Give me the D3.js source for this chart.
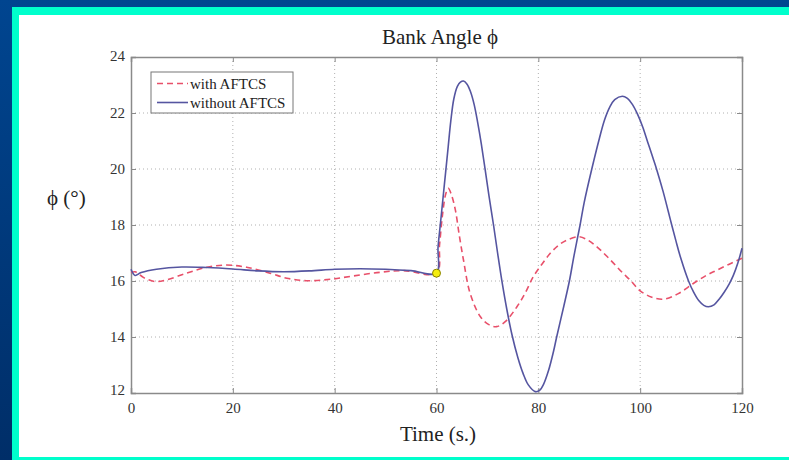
<!DOCTYPE html>
<html lang="en">
<head>
    <meta charset="UTF-8">
    <title>Bank Angle</title>
    <script src="https://cdnjs.cloudflare.com/ajax/libs/d3/7.8.5/d3.min.js"></script>
    <style>
        body {
            margin: 0;
            padding: 0;
            background: #003b80;
        }

        svg {
            display: block;
            font-family: 'Liberation Serif', 'Times New Roman', serif;
        }

        .tick-label {
            font-family: 'Liberation Serif', 'Times New Roman', serif;
            font-size: 15px;
            fill: #333;
        }

        .grid line {
            stroke: #b0b0b0;
            stroke-width: 1;
            stroke-dasharray: 1, 3;
        }
    </style>
</head>
<body>
    <svg id="chart" width="789" height="460"></svg>

    <script>
        // Data: time (s) and bank angle (deg)
        const timeWithout = [0, 0.8, 2, 5, 10, 15, 20, 25, 30, 35, 40, 45, 50, 55, 60,
            60.3, 60.8, 61.3, 61.8, 62.3, 62.8, 63.4, 64.1, 64.7, 65.3, 66, 66.7, 67.4, 68.1, 68.8,
            69.5, 70.3, 71.2, 72, 72.8, 73.8, 74.8, 76, 77, 78, 79.4, 80.3, 81, 82, 83, 83.6,
            85, 86.1, 87, 88.2, 89, 90.5, 92, 93, 94, 95, 96.5, 97.5, 98.5, 99.5, 100.5, 101.5, 102.5,
            103.3, 104.5, 105.5, 106.2, 107, 108, 109.5, 110.5, 111.5, 112.5, 113.4, 114.5, 115.5,
            116.5, 117.5, 118.3, 119.2, 120];
        const phiWithout = [16.42, 16.2, 16.3, 16.42, 16.5, 16.48, 16.43, 16.36, 16.33, 16.36, 16.42, 16.44, 16.42, 16.37, 16.28,
            17.2, 18.1, 19.0, 19.9, 20.8, 21.7, 22.5, 22.95, 23.1, 23.14, 23.03, 22.75, 22.3, 21.65, 20.9,
            20.05, 19.05, 18.0, 17.0, 16.05, 15.0, 14.1, 13.25, 12.7, 12.3, 12.05, 12.1, 12.3, 12.8, 13.5, 14.0,
            15.1, 16.0, 16.9, 18.0, 18.8, 20.0, 21.1, 21.75, 22.2, 22.48, 22.6, 22.52, 22.3, 21.95, 21.5, 20.95, 20.4,
            19.95, 19.2, 18.5, 18.0, 17.45, 16.8, 16.0, 15.6, 15.3, 15.13, 15.08, 15.15, 15.35,
            15.6, 15.9, 16.2, 16.65, 17.17];

        const timeWith = [0, 0.8, 2.5, 4.7, 7, 10.9, 14.9, 18.8, 22.7, 27.3, 30.6, 34.5, 39.1, 43.7, 48.9, 53.5, 60,
            60.6, 61.2, 61.8, 62.3, 62.9, 63.7, 64.5, 65.3, 66.6, 68.6, 70.2, 71.8, 73.5, 75.8, 77.5, 79,
            80.7, 82.3, 84, 85.6, 88, 89.8, 91.5, 93.2, 94.8, 96.4, 98, 100, 102.3, 104.6, 107.5, 110.5,
            113, 115.1, 117.5, 120];
        const phiWith = [16.3, 16.33, 16.12, 15.98, 16.04, 16.28, 16.49, 16.57, 16.49, 16.28, 16.1, 16.01, 16.06, 16.18, 16.31, 16.37, 16.28,
            17.3, 18.4, 19.1, 19.31, 19.1, 18.54, 17.6, 16.75, 15.56, 14.73, 14.45, 14.37, 14.55, 15.08, 15.6, 16.15,
            16.6, 16.98, 17.28, 17.46, 17.58, 17.45, 17.22, 16.93, 16.63, 16.32, 16.04, 15.65, 15.42, 15.35, 15.55, 15.92,
            16.2, 16.39, 16.6, 16.81];

        const xTicks = [0, 20, 40, 60, 80, 100, 120];
        const yTicks = [12, 14, 16, 18, 20, 22, 24];

        // Switch point marker (yellow dot)
        const switchPoint = { t: 60, phi: 16.28 };

        const svg = d3.select('#chart');
        const width = +svg.attr('width');
        const height = +svg.attr('height');

        // Frame: dark blue background, cyan border, white panel
        const grad = svg.append('defs').append('linearGradient')
            .attr('id', 'bg')
            .attr('x1', 0).attr('y1', 0).attr('x2', 0).attr('y2', 1);
        grad.append('stop').attr('offset', '0%').attr('stop-color', '#004590');
        grad.append('stop').attr('offset', '100%').attr('stop-color', '#002e68');

        svg.append('rect').attr('width', width).attr('height', height).attr('fill', 'url(#bg)');
        svg.append('rect').attr('x', 12).attr('y', 7).attr('width', width - 12).attr('height', height - 7)
            .attr('fill', '#00ffcc');
        svg.append('rect').attr('x', 19).attr('y', 15).attr('width', width - 19).attr('height', 442)
            .attr('fill', '#ffffff');

        const margin = { left: 131, right: 742, top: 57, bottom: 393 };

        const x = d3.scaleLinear().domain([0, 120]).range([margin.left, margin.right]);
        const y = d3.scaleLinear().domain([12, 24]).range([margin.bottom, margin.top]);

        // Grid lines
        svg.append('g').attr('class', 'grid')
            .selectAll('line')
            .data(xTicks.slice(1, -1))
            .join('line')
            .attr('x1', d => x(d)).attr('x2', d => x(d))
            .attr('y1', margin.top).attr('y2', margin.bottom);

        svg.append('g').attr('class', 'grid')
            .selectAll('line')
            .data(yTicks.slice(1, -1))
            .join('line')
            .attr('x1', margin.left).attr('x2', margin.right)
            .attr('y1', d => y(d)).attr('y2', d => y(d));

        // Axes with inward ticks, MATLAB style box
        const axisColor = '#8a8a8a';
        const bottomAxis = svg.append('g')
            .attr('transform', `translate(0,${margin.bottom})`)
            .call(d3.axisBottom(x).tickValues(xTicks).tickSize(-5).tickPadding(9));
        const topAxis = svg.append('g')
            .attr('transform', `translate(0,${margin.top})`)
            .call(d3.axisTop(x).tickValues(xTicks).tickSize(-5).tickFormat(''));
        const leftAxis = svg.append('g')
            .attr('transform', `translate(${margin.left},0)`)
            .call(d3.axisLeft(y).tickValues(yTicks).tickSize(-5).tickPadding(6));
        const rightAxis = svg.append('g')
            .attr('transform', `translate(${margin.right},0)`)
            .call(d3.axisRight(y).tickValues(yTicks).tickSize(-5).tickFormat(''));

        [bottomAxis, topAxis, leftAxis, rightAxis].forEach(g => {
            g.attr('font-family', null).attr('font-size', null);
            g.select('.domain').attr('stroke', axisColor).attr('stroke-width', 1.5);
            g.selectAll('.tick line').attr('stroke', axisColor);
            g.selectAll('.tick text').attr('class', 'tick-label');
        });
        // MATLAB puts the corner y labels slightly off the gridline
        leftAxis.selectAll('.tick text').filter(d => d === 12).attr('dy', '0.1em');
        leftAxis.selectAll('.tick text').filter(d => d === 24).attr('dy', '0.2em');

        // Curves
        const line = d3.line()
            .x(d => x(d[0]))
            .y(d => y(d[1]))
            .curve(d3.curveCatmullRom.alpha(0.5));

        svg.append('path')
            .datum(d3.zip(timeWith, phiWith))
            .attr('fill', 'none')
            .attr('stroke', '#e8506a')
            .attr('stroke-width', 1.6)
            .attr('stroke-dasharray', '6,4')
            .attr('d', line);

        svg.append('path')
            .datum(d3.zip(timeWithout, phiWithout))
            .attr('fill', 'none')
            .attr('stroke', '#5555a0')
            .attr('stroke-width', 1.6)
            .attr('d', line);

        svg.append('circle')
            .attr('cx', x(switchPoint.t))
            .attr('cy', y(switchPoint.phi))
            .attr('r', 4)
            .attr('fill', '#f4ee10')
            .attr('stroke', '#8a8400')
            .attr('stroke-width', 1);

        // Legend
        const legend = svg.append('g').attr('transform', 'translate(151,72)');
        legend.append('rect')
            .attr('width', 142).attr('height', 41)
            .attr('fill', '#fff')
            .attr('stroke', '#777').attr('stroke-width', 1);
        const entries = [
            { label: 'with AFTCS', color: '#e8506a', dash: '6,4' },
            { label: 'without AFTCS', color: '#5555a0', dash: null }
        ];
        entries.forEach((e, i) => {
            const ly = 11.5 + i * 19;
            legend.append('line')
                .attr('x1', 6).attr('x2', 37)
                .attr('y1', ly).attr('y2', ly)
                .attr('stroke', e.color)
                .attr('stroke-width', 1.6)
                .attr('stroke-dasharray', e.dash);
            legend.append('text')
                .attr('x', 39).attr('y', ly + 5)
                .attr('font-size', 15)
                .attr('fill', '#222')
                .text(e.label);
        });

        // Title and axis labels
        svg.append('text')
            .attr('x', 440).attr('y', 44)
            .attr('text-anchor', 'middle')
            .attr('font-size', 21)
            .attr('fill', '#222')
            .text('Bank Angle ϕ');

        svg.append('text')
            .attr('x', 438).attr('y', 441)
            .attr('text-anchor', 'middle')
            .attr('font-size', 21)
            .attr('fill', '#222')
            .text('Time (s.)');

        svg.append('text')
            .attr('x', 47).attr('y', 205)
            .attr('font-size', 21)
            .attr('fill', '#222')
            .text('ϕ (°)');
    </script>
</body>
</html>
